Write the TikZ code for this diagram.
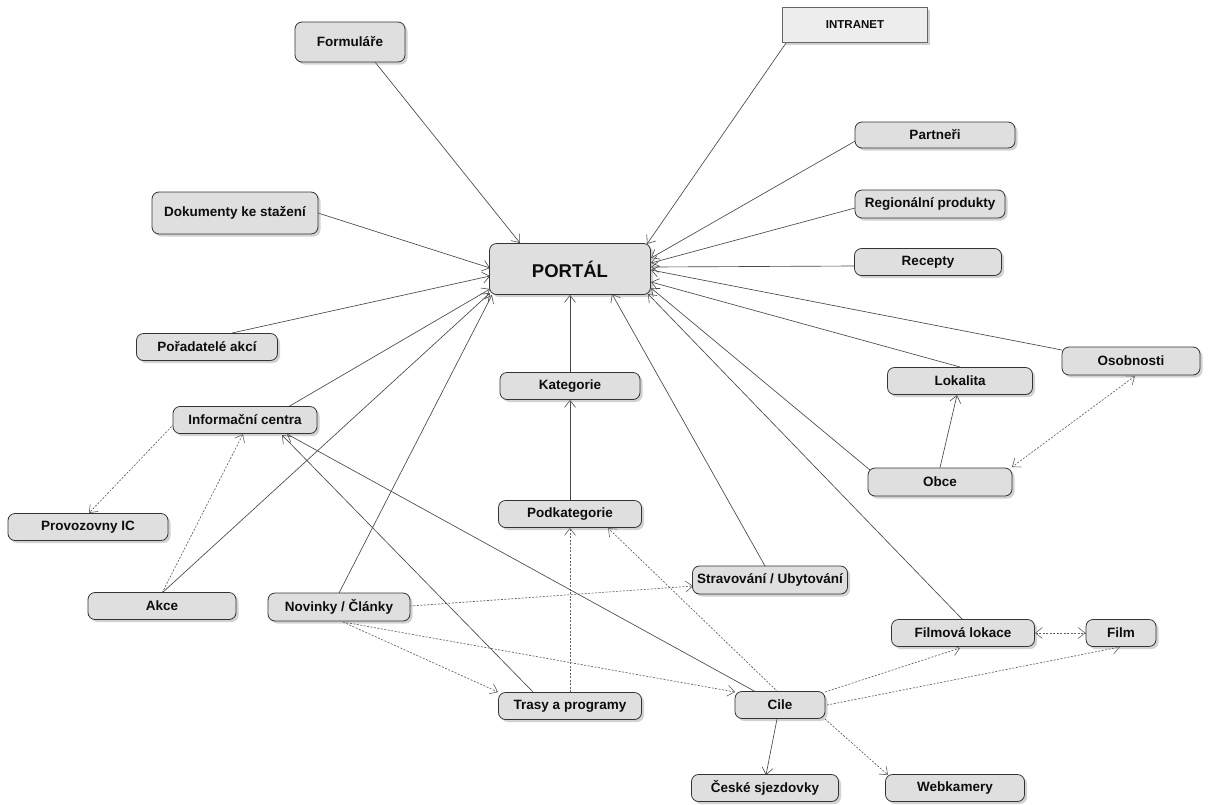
\documentclass[tikz,border=0pt]{standalone}
\usepackage{fontspec}
\setmainfont{Liberation Sans}
\usetikzlibrary{arrows.meta,shadows,backgrounds}
\begin{document}
\begin{tikzpicture}[x=1pt,y=-1pt,
  box/.style={draw=black!80, line width=0.8pt, fill=gray!25, rounded corners=7pt, inner sep=0pt,
    text=black!95, font=\bfseries\fontsize{13.5}{16}\selectfont,
    drop shadow={shadow xshift=2.5pt, shadow yshift=-2.5pt, opacity=0.35}},
  sz/.style 2 args={minimum width=#1pt, minimum height=#2pt},
  tip/.tip={Straight Barb[length=7pt,width=11pt,line width=0.6pt]},
  link/.style={draw=black!72, line width=0.65pt, -tip},
  dlink/.style={draw=black!62, line width=0.65pt, dash pattern=on 2pt off 1.5pt, -tip},
  dboth/.style={dlink, tip-tip}
]
\useasboundingbox (0,0) rectangle (1208,804);

\node[box, sz={110}{40}] (form) at (350,42) {Formuláře};
\node[box, rounded corners=0pt, draw=black!60, fill=gray!14, sz={145}{35},
  font=\bfseries\fontsize{11.5}{14}\selectfont] (intra) at (855,25) {INTRANET};
\node[box, sz={160}{26}] (partn) at (935,135) {Partneři};
\node[box, sz={150}{28}] (regio) at (930,204) {Regionální produkty};
\node[box, sz={147}{27}] (recep) at (928,262) {Recepty};
\node[box, sz={166}{42}] (dokum) at (235,213) {Dokumenty ke stažení};
\node[box, sz={161}{51}, font=\bfseries\fontsize{18.5}{22}\selectfont] (portal) at (570,269) {PORTÁL};
\node[box, sz={141}{27}] (porad) at (207,347) {Pořadatelé akcí};
\node[box, sz={138}{28}] (osob) at (1131,361) {Osobnosti};
\node[box, sz={145}{27}] (lokal) at (960,381) {Lokalita};
\node[box, sz={140}{27}] (kateg) at (570,386) {Kategorie};
\node[box, sz={144}{27}] (info) at (245,420) {Informační centra};
\node[box, sz={144}{28}] (obce) at (940,482) {Obce};
\node[box, sz={160}{27}] (provoz) at (88,527) {Provozovny IC};
\node[box, sz={143}{27}] (podkat) at (570,514) {Podkategorie};
\node[box, sz={155}{28}] (strav) at (770,580) {Stravování / Ubytování};
\node[box, sz={148}{27}] (akce) at (162,606) {Akce};
\node[box, sz={142}{28}] (novin) at (339,607) {Novinky / Články};
\node[box, sz={143}{27}] (filmlok) at (963,633) {Filmová lokace};
\node[box, sz={70}{27}] (film) at (1121,633) {Film};
\node[box, sz={143}{27}] (trasy) at (570,706) {Trasy a programy};
\node[box, sz={90}{27}] (cile) at (780,705) {Cile};
\node[box, sz={147}{27}] (sjezd) at (765,788) {České sjezdovky};
\node[box, sz={139}{27}] (webk) at (955,788) {Webkamery};

\begin{scope}[on background layer]
\fill[white] (0,0) rectangle (1208,804);
% into PORTAL
\draw[link] ([shift={(25,20)}]form.center) -- ([shift={(-50,-26)}]portal.center);
\draw[link] ([shift={(-69,18)}]intra.center) -- ([shift={(77,-25)}]portal.center);
\draw[link] ([shift={(-78,5)}]partn.center) -- ([shift={(81,-11)}]portal.center);
\draw[link] ([shift={(-75,4)}]regio.center) -- ([shift={(81,-6)}]portal.center);
\draw[link] ([shift={(-73,4)}]recep.center) -- ([shift={(81,-2)}]portal.center);
\draw[link] ([shift={(-69,-11)}]osob.center) -- ([shift={(81,1)}]portal.center);
\draw[link] ([shift={(0,-14)}]lokal.center) -- ([shift={(81,13)}]portal.center);
\draw[link] ([shift={(-70,-12)}]obce.center) -- ([shift={(81,19)}]portal.center);
\draw[link] ([shift={(0,-13)}]filmlok.center) -- ([shift={(78,25)}]portal.center);
\draw[link] ([shift={(-5,-14)}]strav.center) -- ([shift={(42,25)}]portal.center);
\draw[link] (kateg.north) -- (portal.south);
\draw[link] ([shift={(0,-14)}]novin.center) -- ([shift={(-78,26)}]portal.center);
\draw[link] ([shift={(0,-13)}]akce.center) -- ([shift={(-80,24)}]portal.center);
\draw[link] ([shift={(43,-13)}]info.center) -- ([shift={(-80,20)}]portal.center);
\draw[link] ([shift={(25,-14)}]porad.center) -- ([shift={(-80,7)}]portal.center);
\draw[link] ([shift={(83,0)}]dokum.center) -- ([shift={(-80,-1)}]portal.center);
% others
\draw[link] (podkat.north) -- (kateg.south);
\draw[link] (obce.north) -- ([shift={(-3,14)}]lokal.center);
\draw[dboth] ([shift={(4,15)}]osob.center) -- ([shift={(72,-15)}]obce.center);
\draw[dlink] ([shift={(-71,4)}]info.center) -- ([shift={(1,-14)}]provoz.center);
\draw[dlink] ([shift={(0,-13)}]akce.center) -- ([shift={(-2,14)}]info.center);
\draw[link] ([shift={(-37,-14)}]trasy.center) -- ([shift={(37,15)}]info.center);
\draw[link] ([shift={(-24,-13)}]cile.center) -- ([shift={(42,14)}]info.center);
\draw[dlink] (trasy.north) -- (podkat.south);
\draw[dlink] ([shift={(-2,-13)}]cile.center) -- ([shift={(38,14)}]podkat.center);
\draw[dlink] ([shift={(71,-1)}]novin.center) -- ([shift={(-77,6)}]strav.center);
\draw[dlink] ([shift={(4,15)}]novin.center) -- ([shift={(-72,-14)}]trasy.center);
\draw[dlink] ([shift={(4,15)}]novin.center) -- ([shift={(-45,-13)}]cile.center);
\draw[dlink] ([shift={(45,-13)}]cile.center) -- ([shift={(-3,15)}]filmlok.center);
\draw[dlink] ([shift={(47,0)}]cile.center) -- ([shift={(-1,14)}]film.center);
\draw[dboth] (filmlok.east) -- (film.west);
\draw[link] ([shift={(-3,14)}]cile.center) -- ([shift={(1,-13)}]sjezd.center);
\draw[dlink] ([shift={(45,14)}]cile.center) -- ([shift={(-67,-13)}]webk.center);
\end{scope}
\end{tikzpicture}
\end{document}
